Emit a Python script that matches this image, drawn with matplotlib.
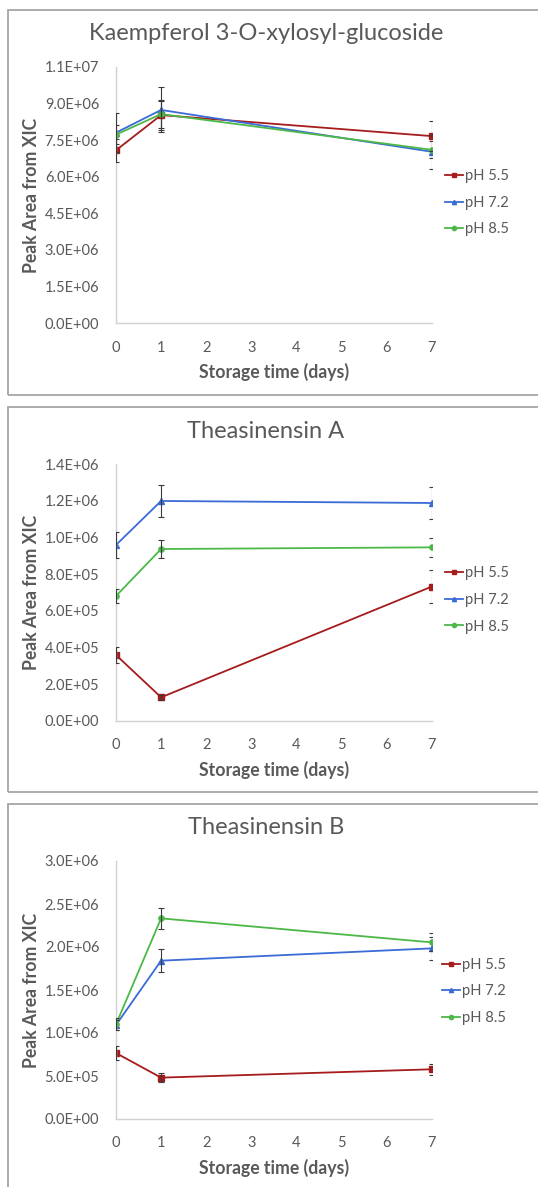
import numpy as np
import matplotlib
matplotlib.use('Agg')
import matplotlib.pyplot as plt
from matplotlib.patches import Rectangle
from matplotlib.ticker import FuncFormatter

W, H = 538, 1187

days = [0, 1, 7]
ph_labels = ['pH 5.5', 'pH 7.2', 'pH 8.5']
colors = ['#A61B1B', '#3A6BD6', '#4CB848']
markers = ['s', '^', 'o']

# Kaempferol 3-O-xylosyl-glucoside
kaemp_55 = [7.08e6, 8.52e6, 7.66e6]
kaemp_72 = [7.80e6, 8.73e6, 7.02e6]
kaemp_85 = [7.72e6, 8.56e6, 7.10e6]
kaemp_55_err = [0.48e6, 0.60e6, 0.60e6]
kaemp_72_err = [0.80e6, 0.92e6, 0.70e6]
kaemp_85_err = [0.40e6, 0.55e6, 0.35e6]

# Theasinensin A
thea_a_55 = [0.360e6, 0.129e6, 0.733e6]
thea_a_72 = [0.960e6, 1.200e6, 1.189e6]
thea_a_85 = [0.682e6, 0.938e6, 0.947e6]
thea_a_55_err = [0.043e6, 0.015e6, 0.089e6]
thea_a_72_err = [0.070e6, 0.085e6, 0.085e6]
thea_a_85_err = [0.036e6, 0.049e6, 0.050e6]

# Theasinensin B
thea_b_55 = [0.767e6, 0.481e6, 0.578e6]
thea_b_72 = [1.093e6, 1.841e6, 1.984e6]
thea_b_85 = [1.101e6, 2.333e6, 2.054e6]
thea_b_55_err = [0.083e6, 0.054e6, 0.066e6]
thea_b_72_err = [0.060e6, 0.136e6, 0.130e6]
thea_b_85_err = [0.070e6, 0.120e6, 0.105e6]

titles = ['Kaempferol 3-O-xylosyl-glucoside', 'Theasinensin A', 'Theasinensin B']
y_max = [1.05e7, 1.4e6, 3.0e6]
y_step = [1.5e6, 2.0e5, 5.0e5]

plt.rcParams['font.family'] = ['Lato', 'DejaVu Sans']
grey = '#595959'


def sci(v, pos):
    # excel style 0.0E+00, rounding half up
    if v == 0:
        return '0.0E+00'
    e = int(np.floor(np.log10(abs(v))))
    m = np.floor(v / 10 ** e * 10 + 0.5 + 1e-9) / 10
    if m >= 10:
        m /= 10
        e += 1
    return '%.1fE%+03d' % (m, e)


def fx(px):
    return px / W


def fy(py):
    return 1 - py / H


fig = plt.figure(figsize=(W / 100, H / 100), dpi=100)

# panel frames (top, bottom) and axes boxes (top, bottom) in pixels
frames = [(9.5, 395), (406.7, 792), (804, 1210)]
boxes = [(66.7, 323.3), (464.3, 721), (861, 1119)]
title_y = [33, 431, 828]
legend_pos = [(445, 202.7), (445, 600), (442, 991.3)]

series = [
    ([kaemp_55, kaemp_72, kaemp_85], [kaemp_55_err, kaemp_72_err, kaemp_85_err]),
    ([thea_a_55, thea_a_72, thea_a_85], [thea_a_55_err, thea_a_72_err, thea_a_85_err]),
    ([thea_b_55, thea_b_72, thea_b_85], [thea_b_55_err, thea_b_72_err, thea_b_85_err]),
]

ax_left, ax_right = 116, 431.7

for i in range(3):
    ft, fb = frames[i]
    fig.patches.append(Rectangle((fx(8), fy(fb)), 1.2, (fb - ft) / H,
                                 transform=fig.transFigure, fill=False,
                                 edgecolor='#A6A6A6', lw=1.3))

    top, bot = boxes[i]
    ax = fig.add_axes([fx(ax_left), fy(bot), (ax_right - ax_left) / W, (bot - top) / H])
    vals, errs = series[i]
    for v, e, c, m, lab in zip(vals, errs, colors, markers, ph_labels):
        ax.errorbar(days, v, yerr=e, fmt='none', ecolor='#3A3A3A', elinewidth=0.8,
                    capsize=2.5, capthick=0.8, zorder=3)
        ax.plot(days, v, color=c, marker=m, markersize=3.8, lw=1.3, label=lab, zorder=2)

    ax.set_xlim(0, 7)
    ax.set_ylim(0, y_max[i])
    ax.set_xticks(range(8))
    ax.set_yticks(np.arange(0, y_max[i] + y_step[i] / 2, y_step[i]))
    ax.yaxis.set_major_formatter(FuncFormatter(sci))
    ax.tick_params(length=0, labelsize=10.5, labelcolor=grey)
    ax.tick_params(axis='x', pad=12.5)
    ax.tick_params(axis='y', pad=12)
    for s in ['top', 'right']:
        ax.spines[s].set_visible(False)
    for s in ['left', 'bottom']:
        ax.spines[s].set_color('#D0D0D0')
        ax.spines[s].set_linewidth(1)
    ax.patch.set_alpha(0)

    fig.text(fx(266), fy(title_y[i]), titles[i], ha='center', va='center',
             fontsize=17, color=grey)
    fig.text(fx(32), fy((top + bot) / 2), 'Peak Area from XIC', rotation=90,
             ha='center', va='center', fontsize=12.7, fontweight='bold', color=grey)
    fig.text(fx((ax_left + ax_right) / 2), fy(bot + 48.5), 'Storage time (days)',
             ha='center', va='center', fontsize=12.7, fontweight='bold', color=grey)

    lx, ly = legend_pos[i]
    ax.legend(loc='center left', bbox_to_anchor=(fx(lx), fy(ly)),
              bbox_transform=fig.transFigure, frameon=False, fontsize=10.6,
              labelcolor=grey, handlelength=1.25, handletextpad=0.1,
              labelspacing=0.85, borderpad=0, borderaxespad=0, markerscale=0.8)

fig.savefig('out.png', dpi=100)
